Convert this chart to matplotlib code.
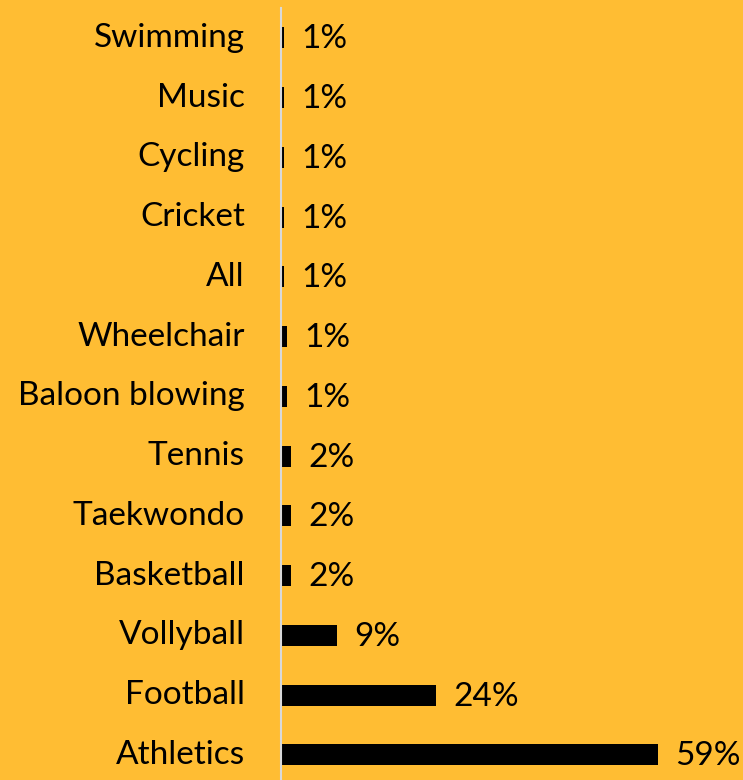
import matplotlib
matplotlib.use("Agg")
import matplotlib.pyplot as plt

# data, bottom to top
sports = ['Athletics', 'Football', 'Vollyball', 'Basketball', 'Taekwondo', 'Tennis',
          'Baloon blowing', 'Wheelchair', 'All', 'Cricket', 'Cycling', 'Music', 'Swimming']
shares = [59.0, 24.3, 8.8, 1.6, 1.6, 1.6, 1.0, 1.0, 0.5, 0.5, 0.5, 0.5, 0.5]
value_labels = ['59%', '24%', '9%', '2%', '2%', '2%', '1%', '1%', '1%', '1%', '1%', '1%', '1%']

BG = '#FFBD33'

plt.rcParams['font.family'] = ['Lato', 'DejaVu Sans']

fig = plt.figure(figsize=(7.43, 7.8), dpi=100, facecolor=BG)
ax = fig.add_axes([281 / 743, 0, 1 - 281 / 743, 1 - 8 / 780])
ax.set_facecolor(BG)

y = range(len(sports))
bars = ax.barh(y, shares, height=0.35, color='black')

for bar, lab in zip(bars, value_labels):
    ax.annotate(lab, (bar.get_width(), bar.get_y() + bar.get_height() / 2),
                xytext=(12, -1), textcoords='offset points',
                ha='left', va='center', fontsize=24)

ax.set_yticks(list(y))
ax.set_yticklabels(sports, fontsize=24, va='center')
ax.tick_params(axis='y', length=0, pad=26)
ax.set_xticks([])
ax.set_xlim(0, 72.3)
ax.set_ylim(-0.42, 12.5)

for side in ['top', 'right', 'bottom']:
    ax.spines[side].set_visible(False)
ax.spines['left'].set_color('#D9D9D9')
ax.spines['left'].set_linewidth(1.5)

fig.savefig('out.png', dpi=100, facecolor=BG)
